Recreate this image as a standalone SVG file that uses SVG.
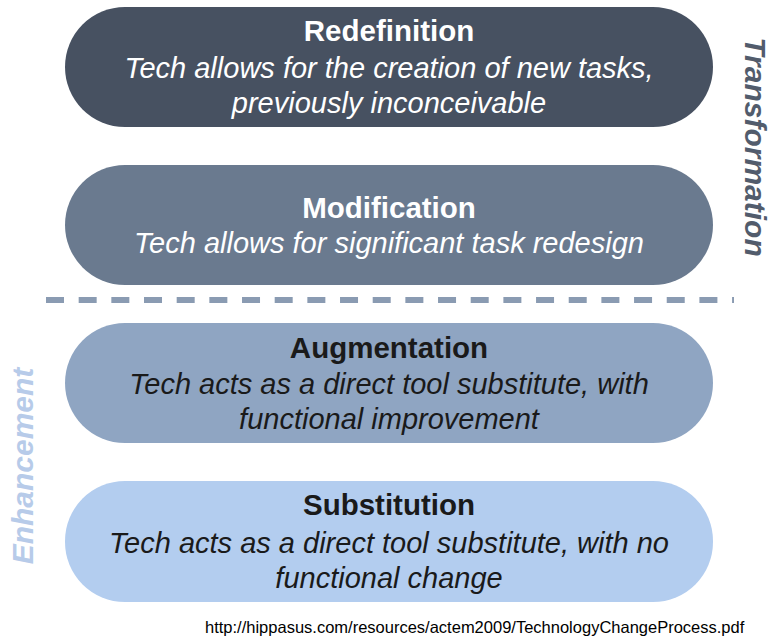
<svg xmlns="http://www.w3.org/2000/svg" width="772" height="644" viewBox="0 0 772 644">
<style>
.t{font-family:"Liberation Sans",Arial,sans-serif;font-weight:bold;font-size:29.5px;text-anchor:middle}
.s{font-family:"Liberation Sans",Arial,sans-serif;font-style:italic;font-size:29px;text-anchor:middle}
.side{font-family:"Liberation Sans",Arial,sans-serif;font-style:italic;font-weight:bold;font-size:30px;text-anchor:middle}
</style>
<rect width="772" height="644" fill="#ffffff"/>
<g id="redefinition">
<rect x="65" y="7" width="648" height="120" rx="60" fill="#475161"/>
<text class="t" x="389" y="41" fill="#ffffff">Redefinition</text>
<text class="s" x="389" y="78" fill="#ffffff">Tech allows for the creation of new tasks,</text>
<text class="s" x="389" y="113" fill="#ffffff">previously inconceivable</text>
</g>
<g id="modification">
<rect x="65" y="165" width="648" height="120" rx="60" fill="#6a7a8f"/>
<text class="t" x="389" y="218" fill="#ffffff">Modification</text>
<text class="s" x="389" y="253" fill="#ffffff">Tech allows for significant task redesign</text>
</g>
<g id="connectors">
<line x1="46" y1="300" x2="734" y2="300" stroke="#8a9bb2" stroke-width="6" stroke-dasharray="18 14.67"/>
</g>
<g id="augmentation">
<rect x="65" y="323" width="648" height="120" rx="60" fill="#8fa5c2"/>
<text class="t" x="389" y="358" fill="#1a1a1a">Augmentation</text>
<text class="s" x="389" y="394" fill="#1a1a1a">Tech acts as a direct tool substitute, with</text>
<text class="s" x="389" y="429" fill="#1a1a1a">functional improvement</text>
</g>
<g id="substitution">
<rect x="65" y="481" width="648" height="121" rx="60" fill="#b3cdef"/>
<text class="t" x="389" y="515" fill="#1a1a1a">Substitution</text>
<text class="s" x="389" y="553" fill="#1a1a1a">Tech acts as a direct tool substitute, with no</text>
<text class="s" x="389" y="588" fill="#1a1a1a">functional change</text>
</g>
<g id="transformation-label">
<text class="side" transform="translate(745,147) rotate(90)" fill="#525c6c">Transformation</text>
</g>
<g id="enhancement-label">
<text class="side" transform="translate(33,466) rotate(-90)" fill="#b7cbe9">Enhancement</text>
</g>
<text x="205" y="633" font-family="'Liberation Sans',Arial,sans-serif" font-size="16.5" fill="#000000">http://hippasus.com/resources/actem2009/TechnologyChangeProcess.pdf</text>
</svg>
